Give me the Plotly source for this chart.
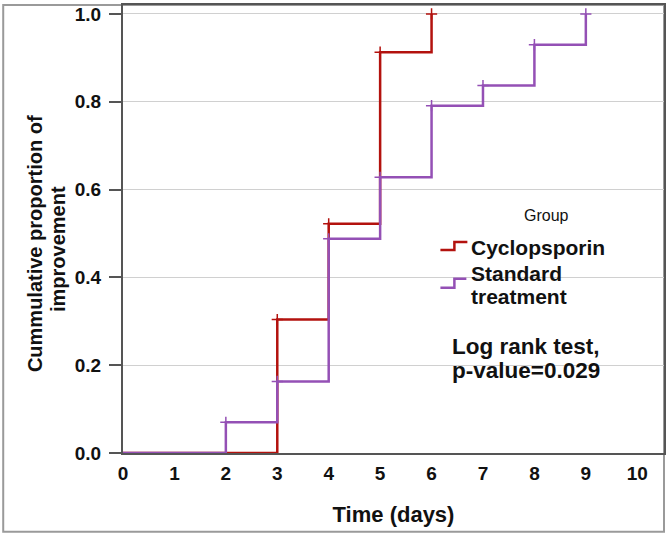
import plotly.graph_objects as go

# Data
cyc_time = [0, 3, 4, 5, 6]
cyc_prop = [0.0, 0.304, 0.522, 0.913, 1.0]
std_time = [0, 2, 3, 4, 5, 6, 7, 8, 9]
std_prop = [0.0, 0.070, 0.163, 0.488, 0.628, 0.791, 0.837, 0.930, 1.0]
x_ticks = list(range(0, 11))
y_ticks = [0.0, 0.2, 0.4, 0.6, 0.8, 1.0]

RED = "#B3120E"
PURPLE = "#9450B5"
FONT = "Arial, Liberation Sans, sans-serif"

W, H = 669, 536
L, R, T, B = 123, 4, 3, 83
PW, PH = W - L - R, H - T - B

def px(x):
    return (x - L) / PW

def py(y):
    return (H - B - y) / PH

fig = go.Figure()
for t, p, c in [(cyc_time, cyc_prop, RED), (std_time, std_prop, PURPLE)]:
    fig.add_trace(go.Scatter(x=t, y=p, mode="lines", line=dict(color=c, width=2.5, shape="hv"),
                             showlegend=False, hoverinfo="skip"))
    fig.add_trace(go.Scatter(x=t[1:], y=p[1:], mode="markers",
                             marker=dict(symbol="cross-thin", size=8, line=dict(color=c, width=1.5)),
                             showlegend=False, hoverinfo="skip"))

shapes = [
    dict(type="rect", xref="paper", yref="paper", x0=px(3), x1=px(665), y0=py(532), y1=py(3),
         line=dict(color="#9a9a9a", width=2), layer="below"),
    dict(type="path", xref="paper", yref="paper",
         path=f"M {px(441)},{py(249)} L {px(455)},{py(249)} L {px(455)},{py(241)} L {px(468)},{py(241)}",
         line=dict(color=RED, width=2.5)),
    dict(type="path", xref="paper", yref="paper",
         path=f"M {px(441)},{py(287)} L {px(455)},{py(287)} L {px(455)},{py(278)} L {px(467)},{py(278)}",
         line=dict(color=PURPLE, width=2.5)),
]

def ann(text, x, y, size, xanchor="center", bold=True, angle=0):
    return dict(text=f"<b>{text}</b>" if bold else text, x=px(x), y=py(y), xref="paper", yref="paper",
                showarrow=False, xanchor=xanchor, yanchor="middle", textangle=angle,
                font=dict(family=FONT, size=size, color="#111"))

annotations = [
    ann("Group", 547, 214, 16, bold=False),
    ann("Cyclopsporin", 470, 247, 21, xanchor="left"),
    ann("Standard", 470, 273, 21, xanchor="left"),
    ann("treatment", 470, 296, 21, xanchor="left"),
    ann("Log rank test,", 527, 346, 22.5),
    ann("p-value=0.029", 527, 370, 22.5),
    ann("Cummulative proportion of", 35, 243, 20, angle=-90),
    ann("improvement", 58, 248, 20, angle=-90),
]

fig.update_layout(
    width=W, height=H, margin=dict(l=L, r=R, t=T, b=B, pad=0),
    paper_bgcolor="white", plot_bgcolor="white",
    shapes=shapes, annotations=annotations,
    font=dict(family=FONT, color="#111"),
    xaxis=dict(range=[0, 10.52], tickvals=x_ticks, ticktext=[f"<b>{v}</b>" for v in x_ticks],
               showgrid=False, zeroline=False, showline=True, mirror=True, linecolor="#555", linewidth=2,
               ticks="", ticklabelstandoff=2,
               tickfont=dict(family=FONT, size=19, color="#111"),
               title=dict(text="<b>Time (days)</b>", font=dict(family=FONT, size=22, color="#111"),
                          standoff=24)),
    yaxis=dict(range=[0, 1.0204], tickvals=y_ticks, ticktext=[f"<b>{v:.1f}</b>" for v in y_ticks],
               showgrid=True, gridcolor="#d0d0d0", gridwidth=1, zeroline=False,
               showline=True, mirror=True, linecolor="#555", linewidth=2,
               ticks="outside", ticklen=12, tickcolor="#555", tickwidth=1.5, ticklabelstandoff=4,
               tickfont=dict(family=FONT, size=19, color="#111")),
)

fig.write_html("out.html")
